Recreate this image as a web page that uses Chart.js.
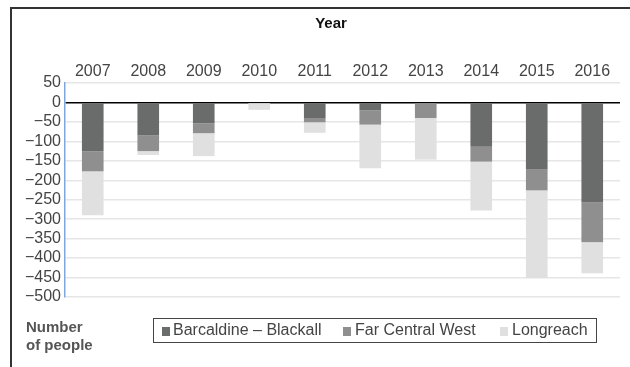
<!DOCTYPE html>
<html>
<head>
<meta charset="utf-8">
<script src="https://cdn.jsdelivr.net/npm/chart.js@4/dist/chart.umd.min.js"></script>
<style>
  html, body { margin: 0; padding: 0; background: #fff; }
  #wrap { position: relative; width: 630px; height: 367px; }
</style>
</head>
<body>
<div id="wrap"><canvas id="c" width="630" height="367"></canvas></div>
<script>
// Net population change by region and year
const years = ['2007', '2008', '2009', '2010', '2011', '2012', '2013', '2014', '2015', '2016'];
const barcaldineBlackall = [-125, -84, -54, 0, -40, -20, 0, -114, -172, -257];
const farCentralWest     = [-52, -41, -25, 0, -11, -37, -40, -38, -54, -102];
const longreach          = [-113, -10, -59, -19, -27, -112, -107, -126, -225, -80];

const seriesNames  = ['Barcaldine \u2013 Blackall', 'Far Central West', 'Longreach'];
const seriesColors = ['#6a6c6b', '#8f8f8f', '#e0e0e0'];

const yMin = -500, yMax = 50, yStep = 50;

const FONT = '"Liberation Sans", Arial, Helvetica, sans-serif';
const TEXT = '#444444';

// Frame, title, axis caption and boxed legend
const decorations = {
  id: 'decorations',
  afterDraw(chart) {
    const ctx = chart.ctx;
    ctx.save();
    // outer frame
    ctx.strokeStyle = '#333333';
    ctx.lineWidth = 2;
    ctx.beginPath();
    ctx.moveTo(11, 367);
    ctx.lineTo(11, 8);
    ctx.lineTo(630, 8);
    ctx.stroke();

    // title
    ctx.fillStyle = '#111111';
    ctx.font = 'bold 15px ' + FONT;
    ctx.textAlign = 'center';
    ctx.textBaseline = 'middle';
    ctx.fillText('Year', 331, 24);

    // y caption
    ctx.fillStyle = '#555555';
    ctx.textAlign = 'left';
    ctx.fillText('Number', 26, 328);
    ctx.fillText('of people', 26, 346);

    // legend box
    ctx.strokeStyle = '#444444';
    ctx.lineWidth = 1;
    ctx.strokeRect(153.5, 318.5, 443, 24);
    const items = [
      { x: 162, tx: 173 },
      { x: 343, tx: 355 },
      { x: 500, tx: 512 }
    ];
    ctx.font = '16px ' + FONT;
    ctx.textBaseline = 'middle';
    chart.data.datasets.forEach((ds, i) => {
      const it = items[i];
      ctx.fillStyle = ds.backgroundColor;
      ctx.fillRect(it.x, 327, 8, 9);
      ctx.fillStyle = TEXT;
      ctx.fillText(ds.label, it.tx, 331);
    });
    ctx.restore();
  }
};

new Chart(document.getElementById('c'), {
  type: 'bar',
  data: {
    labels: years,
    datasets: [
      { label: seriesNames[0], data: barcaldineBlackall, backgroundColor: seriesColors[0] },
      { label: seriesNames[1], data: farCentralWest,     backgroundColor: seriesColors[1] },
      { label: seriesNames[2], data: longreach,          backgroundColor: seriesColors[2] }
    ]
  },
  options: {
    responsive: false,
    animation: false,
    devicePixelRatio: 1,
    layout: { padding: { left: 15, right: 10, top: 57, bottom: 70 } },
    datasets: {
      bar: { categoryPercentage: 1, barPercentage: 0.39, borderWidth: 0 }
    },
    plugins: {
      legend: { display: false },
      title: { display: false },
      tooltip: { enabled: false }
    },
    scales: {
      x: {
        position: 'top',
        stacked: true,
        grid: { display: false, drawTicks: false },
        border: { display: false },
        ticks: { color: TEXT, font: { family: FONT, size: 16 }, padding: 2, maxRotation: 0, autoSkip: false },
        afterFit(scale) { scale.height = 26; }
      },
      y: {
        stacked: true,
        min: yMin,
        max: yMax,
        ticks: {
          stepSize: yStep,
          autoSkip: false,
          color: TEXT,
          font: { family: FONT, size: 16 },
          padding: 4,
          callback: v => (v < 0 ? '\u2212' + Math.abs(v) : String(v))
        },
        grid: {
          drawTicks: false,
          color: c => (c.tick && c.tick.value === 0 ? '#000000' : '#e6e6e6'),
          lineWidth: 1.5
        },
        border: { display: true, color: '#7fa7dc', width: 1.5 },
        afterFit(scale) { scale.width = 50; }
      }
    }
  },
  plugins: [decorations]
});
</script>
</body>
</html>
